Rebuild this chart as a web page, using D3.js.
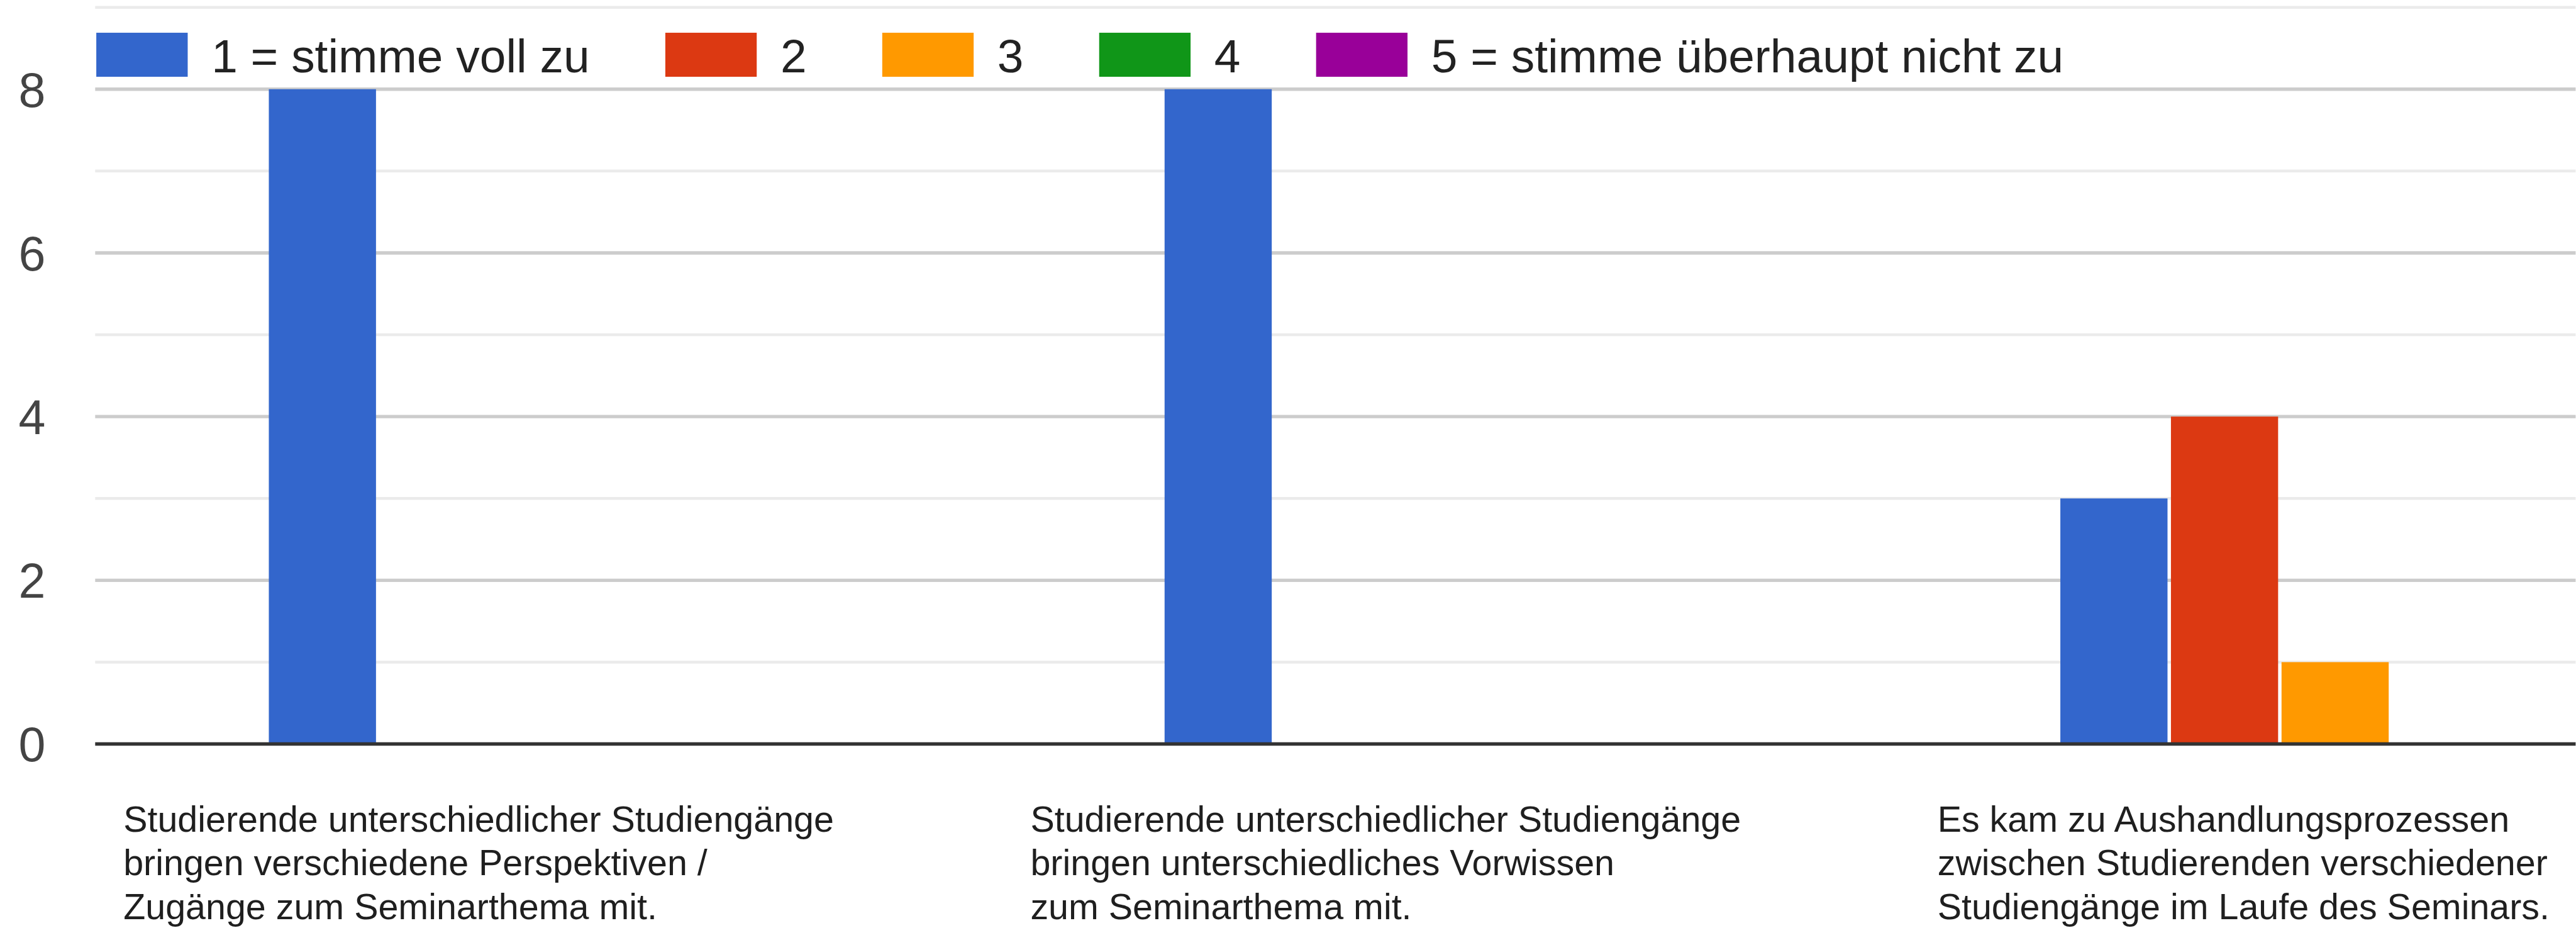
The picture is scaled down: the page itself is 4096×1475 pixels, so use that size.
<!DOCTYPE html>
<html>
<head>
<meta charset="utf-8">
<script src="https://cdn.jsdelivr.net/npm/d3@7"></script>
<style>
  html, body { margin: 0; padding: 0; background: #fff; overflow: hidden; }
  svg { display: block; font-family: "Liberation Sans", Arial, Helvetica, sans-serif; }
</style>
</head>
<body>
<svg id="chart"></svg>
<script>
// chart data
const categories = ["perspektiven", "vorwissen", "aushandlung"];
const categoryLines = [
  ["Studierende unterschiedlicher Studiengänge", "bringen verschiedene Perspektiven /", "Zugänge zum Seminarthema mit."],
  ["Studierende unterschiedlicher Studiengänge", "bringen unterschiedliches Vorwissen", "zum Seminarthema mit."],
  ["Es kam zu Aushandlungsprozessen", "zwischen Studierenden verschiedener", "Studiengänge im Laufe des Seminars."]
];
const seriesNames = ["1 = stimme voll zu", "2", "3", "4", "5 = stimme überhaupt nicht zu"];
const seriesColors = ["#3366cc", "#dc3912", "#ff9900", "#109618", "#990099"];
const counts = [
  [8, 0, 0, 0, 0],
  [8, 0, 0, 0, 0],
  [3, 4, 1, 0, 0]
];
const yTickLabels = [0, 2, 4, 6, 8];
const yMinorTicks = [1, 3, 5, 7, 9];

// reference is 4564x1644, window is 4096x1475 -> viewBox does the 0.897 scaling
const W = 4564, H = 1644;
const svg = d3.select("#chart")
  .attr("width", 4096)
  .attr("height", 1475)
  .attr("viewBox", `0 0 ${W} ${H}`);

svg.append("rect").attr("width", W).attr("height", H).attr("fill", "#fff");

const plotLeft = 168;
const step = 1587.5;

const y = d3.scaleLinear().domain([0, 8]).range([1318, 158]);

// the original chart ran past the right edge, so the band range does too
const x = d3.scaleBand()
  .domain(categories)
  .range([169, 169 + step * categories.length])
  .paddingInner(0.3865)
  .paddingOuter(0.3865 / 2);

const xSeries = d3.scaleBand()
  .domain(seriesNames)
  .range([0, x.bandwidth()])
  .paddingInner(0.031);

const labelX = d3.scaleBand()
  .domain(categories)
  .range([218, 218 + 1607.5 * categories.length]);

// gridlines
const grid = svg.append("g").attr("class", "grid");
grid.selectAll(".minor")
  .data(yMinorTicks)
  .join("line")
  .attr("class", "minor")
  .attr("x1", plotLeft).attr("x2", W)
  .attr("y1", d => y(d)).attr("y2", d => y(d))
  .attr("stroke", "#ebebeb")
  .attr("stroke-width", 5);

grid.selectAll(".major")
  .data(yTickLabels.filter(d => d > 0))
  .join("line")
  .attr("class", "major")
  .attr("x1", plotLeft).attr("x2", W)
  .attr("y1", d => y(d)).attr("y2", d => y(d))
  .attr("stroke", "#cccccc")
  .attr("stroke-width", 6);

// y labels
svg.append("g").attr("class", "y-labels")
  .selectAll("text")
  .data(yTickLabels)
  .join("text")
  .attr("x", 80)
  .attr("y", d => y(d))
  .attr("dy", "0.36em")
  .attr("text-anchor", "end")
  .attr("fill", "#444")
  .style("font-size", "86px")
  .text(d => d);

// bars
const groups = svg.append("g").attr("class", "bars")
  .selectAll("g")
  .data(categories)
  .join("g")
  .attr("transform", d => `translate(${x(d)},0)`);

groups.selectAll("rect")
  .data((d, i) => counts[i].map((v, j) => ({ series: seriesNames[j], color: seriesColors[j], value: v })).filter(b => b.value > 0))
  .join("rect")
  .attr("x", d => xSeries(d.series))
  .attr("width", xSeries.bandwidth())
  .attr("y", d => y(d.value))
  .attr("height", d => y(0) - y(d.value))
  .attr("fill", d => d.color);

// baseline
svg.append("line")
  .attr("x1", plotLeft).attr("x2", W)
  .attr("y1", y(0)).attr("y2", y(0))
  .attr("stroke", "#333")
  .attr("stroke-width", 6);

// category labels, left aligned blocks
const labels = svg.append("g").attr("class", "x-labels")
  .selectAll("text")
  .data(categories)
  .join("text")
  .attr("x", d => labelX(d))
  .attr("y", 1473)
  .attr("fill", "#1f1f1f")
  .style("font-size", "64px");

labels.selectAll("tspan")
  .data((d, i) => categoryLines[i])
  .join("tspan")
  .attr("x", function() { return d3.select(this.parentNode).attr("x"); })
  .attr("dy", (d, i) => i === 0 ? 0 : 77.5)
  .text(d => d);

// legend
const legend = svg.append("g").attr("class", "legend");
let lx = 170;
seriesNames.forEach((name, i) => {
  const item = legend.append("g").attr("transform", `translate(${lx},0)`);
  item.append("rect")
    .attr("x", 0).attr("y", 58)
    .attr("width", 162).attr("height", 78)
    .attr("fill", seriesColors[i]);
  const t = item.append("text")
    .attr("x", 204)
    .attr("y", 128)
    .attr("fill", "#222")
    .style("font-size", "83.5px")
    .text(name);
  lx += 204 + t.node().getComputedTextLength() + 134;
});
</script>
</body>
</html>
